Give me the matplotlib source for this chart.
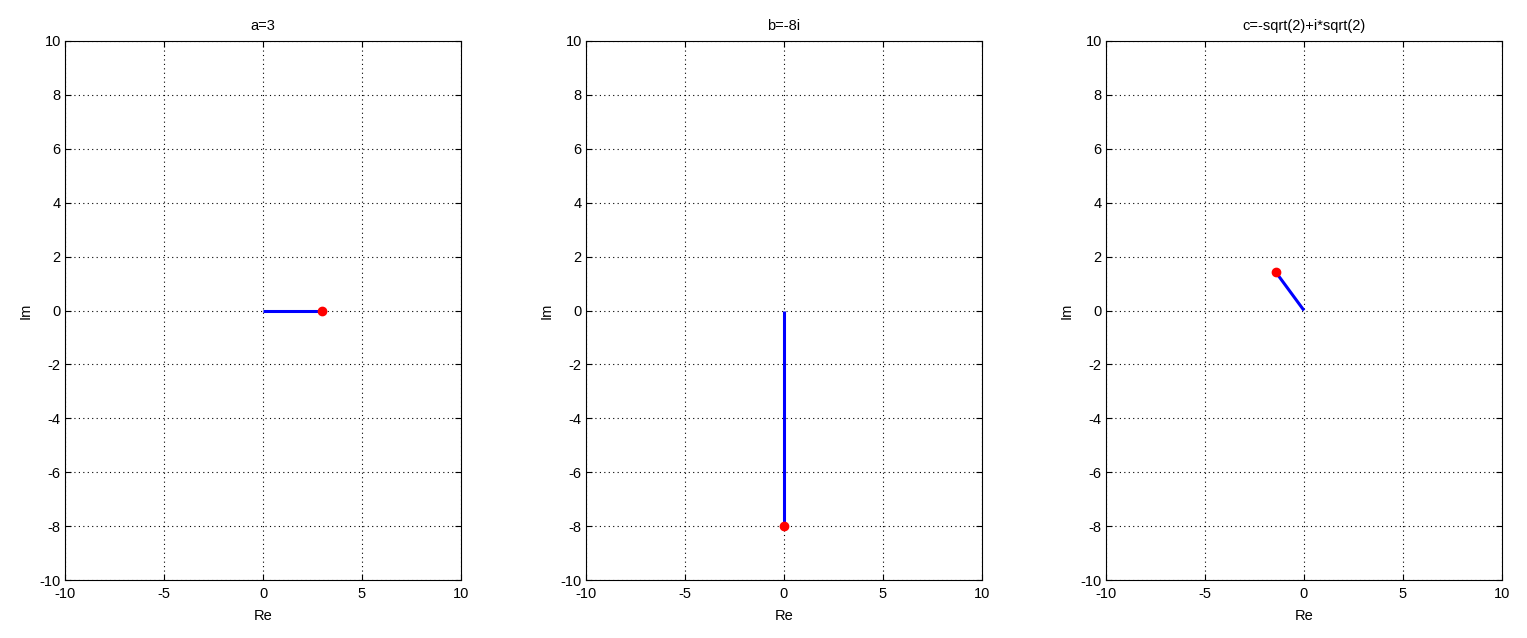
import matplotlib
matplotlib.use("Agg")
import matplotlib.pyplot as plt
import numpy as np

plt.rcParams['font.family'] = ['Liberation Sans', 'DejaVu Sans']

titles = ["a=3", "b=-8i", "c=-sqrt(2)+i*sqrt(2)"]
re_vals = [3.0, 0.0, -np.sqrt(2)]
im_vals = [0.0, -8.0, np.sqrt(2)]
xticks = [-10, -5, 0, 5, 10]
yticks = list(range(-10, 11, 2))

fig = plt.figure(figsize=(15.27, 6.38), dpi=100)
lefts = [65/1527, 586/1527, 1106/1527]
w = 396/1527
b = 58/638
h = 539/638

for i in range(3):
    ax = fig.add_axes([lefts[i], b, w, h])
    ax.plot([0, re_vals[i]], [0, im_vals[i]], color='#0000ff', lw=2.2, solid_capstyle='butt', zorder=3)
    ax.plot([re_vals[i]], [im_vals[i]], 'o', color='#ff0000', ms=6, zorder=4)
    ax.set_xlim(-10, 10)
    ax.set_ylim(-10, 10)
    ax.set_xticks(xticks)
    ax.set_yticks(yticks)
    ax.set_xticklabels([str(t) for t in xticks])
    ax.set_yticklabels([str(t) for t in yticks])
    ax.tick_params(direction='in', length=4, labelsize=10.5, top=True, right=True, colors='black', pad=3)
    ax.tick_params(axis='x', pad=5)
    ax.grid(True, linestyle=(0, (1, 3)), color='black', linewidth=0.8)
    for s in ax.spines.values():
        s.set_linewidth(0.8)
    ax.set_title(titles[i], fontsize=10.5, pad=8)
    ax.set_xlabel('Re', fontsize=10.5, labelpad=6)
    ax.set_ylabel('Im', fontsize=10.5, labelpad=5)

fig.savefig('out.png', dpi=100)
